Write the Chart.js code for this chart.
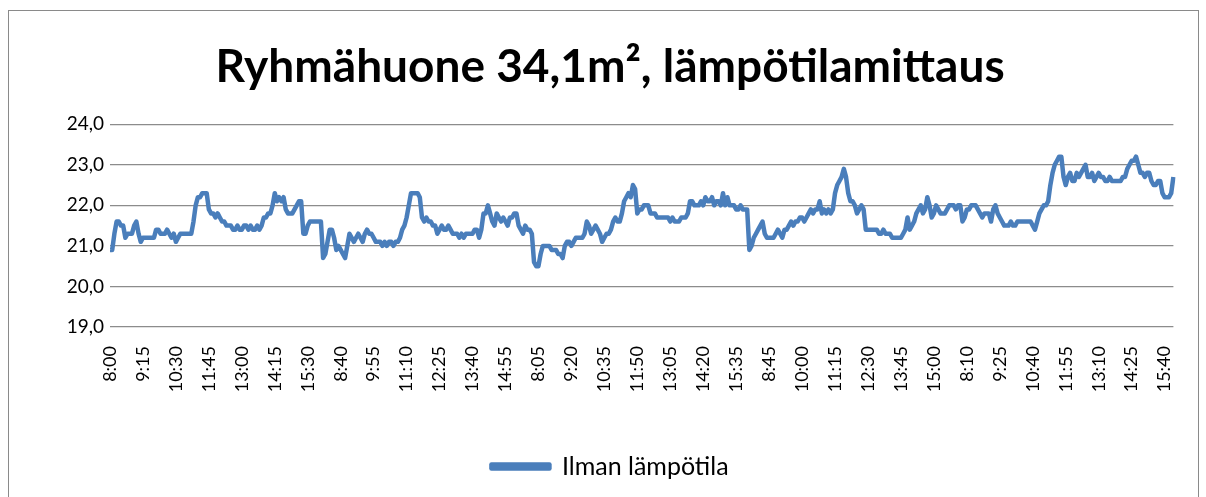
<!DOCTYPE html>
<html>
<head>
<meta charset="utf-8">
<script src="https://cdn.jsdelivr.net/npm/chart.js@4/dist/chart.umd.min.js"></script>
<style>
  html, body { margin: 0; padding: 0; background: #fff; }
  #frame {
    position: absolute; left: 8px; top: 10px;
    width: 1191px; height: 500px;
    border: 1px solid #8a8a8a; box-sizing: border-box;
  }
  #chart { position: absolute; left: 0; top: 0; }
</style>
</head>
<body>
<div id="frame"></div>
<canvas id="chart" width="1206" height="497"></canvas>
<script>
// Data: air temperature, 5 school days, one reading every 5 min (8:00-16:00)
const title = 'Ryhmähuone 34,1m², lämpötilamittaus';
const seriesName = 'Ilman lämpötila';

const day1 = [
  20.9, 20.9, 21.3, 21.6, 21.6, 21.5, 21.5, 21.2, 21.3, 21.3,
  21.3, 21.5, 21.6, 21.3, 21.1, 21.2, 21.2, 21.2, 21.2, 21.2,
  21.2, 21.4, 21.4, 21.3, 21.3, 21.3, 21.4, 21.3, 21.2, 21.3,
  21.1, 21.2, 21.3, 21.3, 21.3, 21.3, 21.3, 21.3, 21.6, 22.0,
  22.2, 22.2, 22.3, 22.3, 22.3, 21.9, 21.8, 21.8, 21.7, 21.8,
  21.7, 21.6, 21.6, 21.5, 21.5, 21.5, 21.4, 21.4, 21.5, 21.4,
  21.4, 21.5, 21.5, 21.4, 21.5, 21.4, 21.4, 21.5, 21.4, 21.5,
  21.7, 21.7, 21.8, 21.8, 22.0, 22.3, 22.1, 22.2, 22.1, 22.2,
  21.9, 21.8, 21.8, 21.8, 21.9, 22.0, 22.1, 22.1, 21.3, 21.3,
  21.5, 21.6, 21.6, 21.6, 21.6, 21.6, 21.6
];
const day2 = [
  20.7, 20.8, 21.1, 21.4, 21.4, 21.2, 20.9, 21.0, 20.9, 20.8,
  20.7, 21.0, 21.3, 21.2, 21.1, 21.2, 21.3, 21.2, 21.1, 21.3,
  21.4, 21.3, 21.3, 21.2, 21.1, 21.1, 21.1, 21.0, 21.1, 21.0,
  21.1, 21.1, 21.0, 21.1, 21.1, 21.2, 21.4, 21.5, 21.7, 22.0,
  22.3, 22.3, 22.3, 22.3, 22.2, 21.7, 21.6, 21.7, 21.6, 21.6,
  21.5, 21.5, 21.3, 21.4, 21.5, 21.4, 21.4, 21.5, 21.4, 21.3,
  21.3, 21.3, 21.2, 21.3, 21.2, 21.3, 21.3, 21.3, 21.3, 21.4,
  21.4, 21.2, 21.4, 21.8, 21.8, 22.0, 21.8, 21.6, 21.5, 21.8,
  21.7, 21.6, 21.7, 21.6, 21.5, 21.7, 21.7, 21.8, 21.8, 21.5,
  21.4, 21.3, 21.5, 21.4, 21.4, 21.3, 20.6
];
const day3 = [
  20.5, 20.5, 20.8, 21.0, 21.0, 21.0, 21.0, 20.9, 20.9, 20.9,
  20.8, 20.8, 20.7, 21.0, 21.1, 21.1, 21.0, 21.1, 21.2, 21.2,
  21.2, 21.2, 21.3, 21.6, 21.5, 21.3, 21.4, 21.5, 21.4, 21.3,
  21.1, 21.2, 21.3, 21.3, 21.4, 21.6, 21.7, 21.6, 21.6, 21.8,
  22.1, 22.2, 22.3, 22.2, 22.5, 22.4, 21.8, 21.9, 21.9, 22.0,
  22.0, 22.0, 21.8, 21.8, 21.8, 21.7, 21.7, 21.7, 21.7, 21.7,
  21.7, 21.6, 21.7, 21.6, 21.6, 21.6, 21.7, 21.7, 21.7, 21.8,
  22.1, 22.1, 22.0, 22.0, 22.0, 22.1, 22.0, 22.2, 22.1, 22.1,
  22.2, 22.0, 22.1, 22.1, 22.0, 22.3, 22.0, 22.2, 22.0, 22.0,
  22.0, 21.9, 21.9, 22.0, 21.9, 21.9, 21.9
];
const day4 = [
  20.9, 21.0, 21.2, 21.3, 21.4, 21.5, 21.6, 21.3, 21.2, 21.2,
  21.2, 21.2, 21.3, 21.4, 21.3, 21.2, 21.4, 21.4, 21.5, 21.6,
  21.5, 21.6, 21.6, 21.7, 21.7, 21.6, 21.7, 21.8, 21.9, 21.8,
  21.9, 21.9, 22.1, 21.8, 21.9, 21.8, 21.9, 21.8, 21.9, 22.3,
  22.5, 22.6, 22.7, 22.9, 22.7, 22.3, 22.1, 22.1, 22.0, 21.8,
  21.9, 22.0, 21.9, 21.4, 21.4, 21.4, 21.4, 21.4, 21.4, 21.3,
  21.3, 21.4, 21.3, 21.3, 21.3, 21.2, 21.2, 21.2, 21.2, 21.2,
  21.3, 21.4, 21.7, 21.4, 21.5, 21.6, 21.8, 21.9, 22.0, 21.8,
  21.9, 22.2, 22.0, 21.7, 21.8, 22.0, 21.9, 21.8, 21.8, 21.8,
  21.9, 22.0, 22.0, 22.0, 21.9, 22.0, 22.0
];
const day5 = [
  21.6, 21.7, 21.9, 21.9, 22.0, 22.0, 22.0, 21.9, 21.8, 21.7,
  21.8, 21.8, 21.8, 21.6, 21.9, 22.0, 21.8, 21.7, 21.6, 21.5,
  21.5, 21.5, 21.6, 21.5, 21.5, 21.6, 21.6, 21.6, 21.6, 21.6,
  21.6, 21.6, 21.5, 21.4, 21.6, 21.8, 21.9, 22.0, 22.0, 22.1,
  22.5, 22.8, 23.0, 23.1, 23.2, 23.2, 22.7, 22.5, 22.7, 22.8,
  22.6, 22.6, 22.8, 22.7, 22.8, 22.9, 23.0, 22.7, 22.7, 22.8,
  22.6, 22.7, 22.8, 22.7, 22.7, 22.6, 22.6, 22.7, 22.6, 22.6,
  22.6, 22.6, 22.6, 22.7, 22.7, 22.9, 23.0, 23.1, 23.1, 23.2,
  23.0, 22.8, 22.8, 22.7, 22.8, 22.8, 22.6, 22.5, 22.5, 22.6,
  22.6, 22.3, 22.2, 22.2, 22.2, 22.3, 22.7
];

// time axis: each day 8:00 .. 16:00, 5 min step
const dayStart = '8:00';
const dayEnd = '16:00';
const stepMinutes = 5;
const labelEvery = 15;

const yMin = 19;
const yMax = 24;

const values = [...day1, ...day2, ...day3, ...day4, ...day5];

const toMin = (s) => { const [h, m] = s.split(':').map(Number); return h * 60 + m; };
const fmt = (m) => Math.floor(m / 60) + ':' + String(m % 60).padStart(2, '0');

const labels = [];
[day1, day2, day3, day4, day5].forEach(() => {
  for (let m = toMin(dayStart); m <= toMin(dayEnd); m += stepMinutes) labels.push(fmt(m));
});

const font = "Lato, 'Liberation Sans', sans-serif";

new Chart(document.getElementById('chart'), {
  type: 'line',
  data: {
    labels: labels,
    datasets: [{
      label: seriesName,
      data: values,
      borderColor: '#4A7EBB',
      backgroundColor: '#4A7EBB',
      borderWidth: 4.5,
      pointRadius: 0,
      tension: 0,
      borderJoinStyle: 'round',
    }],
  },
  options: {
    responsive: false,
    animation: false,
    layout: { padding: { left: 35, right: 21, top: 0, bottom: 8 } },
    plugins: {
      title: {
        display: true,
        text: title,
        color: '#000',
        font: { family: font, size: 46, weight: 'bold' },
        padding: { top: 40, bottom: 29 },
      },
      legend: {
        position: 'bottom',
        labels: {
          color: '#000',
          font: { family: font, size: 25 },
          boxWidth: 58,
          boxHeight: 4,
          padding: 13,
        },
      },
      tooltip: { enabled: false },
    },
    scales: {
      x: {
        offset: false,
        grid: { display: false },
        border: { display: false },
        ticks: {
          autoSkip: false,
          minRotation: 90,
          maxRotation: 90,
          color: '#000',
          font: { family: font, size: 18 },
          padding: 11,
          callback: (v, i) => (i % labelEvery === 0 ? labels[i] : ''),
        },
        afterFit: (s) => { s.height = 114; },
      },
      y: {
        min: yMin,
        max: yMax,
        ticks: {
          stepSize: 1,
          color: '#000',
          font: { family: font, size: 19 },
          padding: 6,
          callback: (v) => v.toFixed(1).replace('.', ','),
        },
        grid: { color: '#8c8c8c', lineWidth: 1.2, drawTicks: false },
        border: { display: false },
        afterFit: (s) => { s.width = 75; },
      },
    },
  },
});
</script>
</body>
</html>
